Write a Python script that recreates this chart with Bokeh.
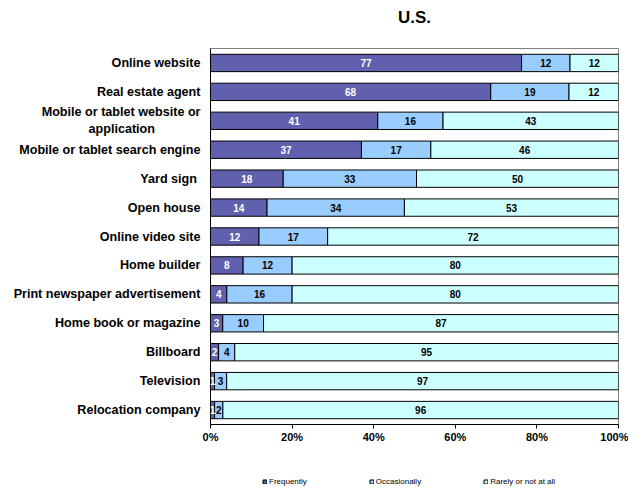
from bokeh.plotting import figure
from bokeh.layouts import column
from bokeh.models import (ColumnDataSource, FactorRange, Range1d, NumeralTickFormatter,
                          FixedTicker, Legend, LegendItem, LabelSet)
from bokeh.core.properties import value
from bokeh.embed import file_html
from bokeh.resources import INLINE

NB = "\u00a0"
categories = ["Online website", "Real estate agent",
              "Mobile or tablet website or\napplication" + NB * 13,
              "Mobile or tablet search engine", "Yard sign" + NB, "Open house", "Online video site",
              "Home builder", "Print newspaper advertisement", "Home book or magazine",
              "Billboard", "Television", "Relocation company"]
frequently = [77, 68, 41, 37, 18, 14, 12, 8, 4, 3, 2, 1, 1]
occasionally = [12, 19, 16, 17, 33, 34, 17, 12, 16, 10, 4, 3, 2]
rarely = [12, 12, 43, 46, 50, 53, 72, 80, 80, 87, 95, 97, 96]
series_names = ["Frequently", "Occasionally", "Rarely or not at all"]
x_ticks = [0, 0.2, 0.4, 0.6, 0.8, 1.0]
title_text = "U.S."

colors = ["#6060AE", "#99CCFF", "#CCFFFF"]
label_colors = ["white", "black", "black"]
FONT = "Liberation Sans"

series = [frequently, occasionally, rarely]
totals = [a + b + c for a, b, c in zip(*series)]

# ---- title strip ----
tf = figure(width=628, height=34, output_backend="svg", toolbar_location=None,
            x_range=Range1d(0, 1), y_range=Range1d(0, 1),
            min_border_left=210, min_border_right=10, min_border_top=0, min_border_bottom=0)
tf.axis.visible = False
tf.grid.grid_line_color = None
tf.outline_line_color = None
tf.text(x=[0.5], y=[0.5], text=[title_text], text_align="center", text_baseline="middle",
        text_font=value(FONT), text_font_style="bold", text_font_size="17px", text_color="black")

# ---- main chart ----
p = figure(width=628, height=414, output_backend="svg", toolbar_location=None,
           y_range=FactorRange(factors=list(reversed(categories)), range_padding=0),
           x_range=Range1d(0, 1),
           min_border_left=210, min_border_right=10, min_border_top=14, min_border_bottom=24)

left = [0.0] * len(categories)
for i, vals in enumerate(series):
    frac = [v / t for v, t in zip(vals, totals)]
    right = [l + f for l, f in zip(left, frac)]
    mid = [(l + r) / 2 for l, r in zip(left, right)]
    src = ColumnDataSource(dict(cat=categories, left=left, right=right, mid=mid,
                                txt=[str(v) for v in vals]))
    p.hbar(y="cat", left="left", right="right", height=0.6, source=src,
           fill_color=colors[i], line_color="black", line_width=1)
    lab = LabelSet(x="mid", y="cat", text="txt", source=src, text_align="center",
                   text_baseline="middle", text_font=value(FONT), text_font_style="bold",
                   text_font_size="10px", text_color=label_colors[i])
    p.add_layout(lab)
    left = right

p.xaxis.ticker = FixedTicker(ticks=x_ticks)
p.xaxis.formatter = NumeralTickFormatter(format="0%")
p.xaxis.major_label_text_font = FONT
p.xaxis.major_label_text_font_style = "bold"
p.xaxis.major_label_text_font_size = "11px"
p.xaxis.major_label_text_color = "black"
p.xaxis.minor_tick_line_color = None
p.xaxis.major_tick_in = 0
p.xaxis.major_tick_out = 4
p.xaxis.major_label_standoff = 2
p.xaxis.axis_line_color = "black"

p.yaxis.major_label_text_font = FONT
p.yaxis.major_label_text_font_style = "bold"
p.yaxis.major_label_text_font_size = "12.6px"
p.yaxis.major_label_text_color = "black"
p.yaxis.major_tick_line_color = None
p.yaxis.major_tick_in = 0
p.yaxis.major_tick_out = 0
p.yaxis.major_label_standoff = 10
p.yaxis.axis_line_color = "black"

p.grid.grid_line_color = None
p.outline_line_color = "#808080"
p.outline_line_width = 1

# ---- legend strip ----
lf = figure(width=628, height=41, output_backend="svg", toolbar_location=None,
            x_range=Range1d(0, 1), y_range=Range1d(0, 1),
            min_border_left=210, min_border_right=10, min_border_top=26, min_border_bottom=0)
lf.axis.visible = False
lf.grid.grid_line_color = None
lf.outline_line_color = None
# legend-only renderers: their single bar lies outside the strip's visible range
dummy = ColumnDataSource(dict(y=[-5], left=[0], right=[1]))
leg_renderers = [lf.hbar(y="y", left="left", right="right", height=0.1, source=dummy,
                         fill_color=c, line_color="black", line_width=1) for c in colors]
legend = Legend(items=[LegendItem(label=n, renderers=[r]) for n, r in zip(series_names, leg_renderers)],
                orientation="horizontal", location=(52, 3),
                glyph_width=5, glyph_height=5, label_standoff=2,
                label_height=8, spacing=62, padding=0, margin=0,
                label_text_font=FONT, label_text_font_size="8px", label_text_color="black",
                border_line_color=None, background_fill_alpha=0)
lf.add_layout(legend)

open("out.html", "w").write(file_html(column(tf, p, lf, spacing=0), INLINE))
